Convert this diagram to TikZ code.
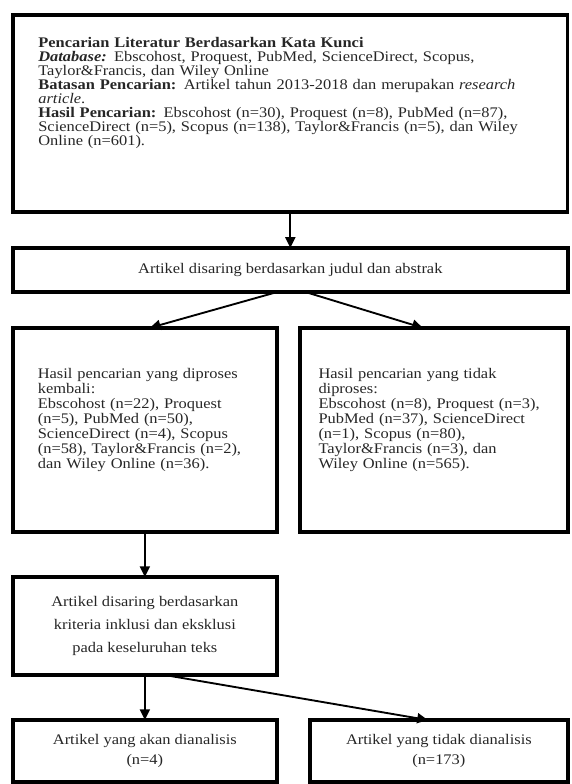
\documentclass[tikz,border=0pt]{standalone}
\usepackage{fontspec}
\setmainfont{Liberation Serif}[FakeStretch=1.12]
\usetikzlibrary{positioning,arrows.meta}

\begin{document}
\begin{tikzpicture}[
    kotak/.style={draw=black, line width=2.6pt, outer sep=0pt, text=black!85},
    panah/.style={-{Triangle[length=8pt,width=7.5pt]}, line width=1.4pt}]
  \useasboundingbox (0,0) rectangle (428.25pt,-588pt);

  \node[kotak, name=cari, anchor=north west, text width=378pt, align=left,
        inner xsep=19pt, inner ysep=17pt, text depth=106pt,
        font=\fontsize{11}{10.5}\selectfont] at (9.75pt,-11.25pt)
    {\textbf{Pencarian Literatur Berdasarkan Kata Kunci}\\
     \textbf{\textit{Database:}} Ebscohost, Proquest, PubMed, ScienceDirect, Scopus,\\
     Taylor\&Francis, dan Wiley Online\\
     \textbf{Batasan Pencarian:} Artikel tahun 2013-2018 dan merupakan \textit{research}\\
     \textit{article}.\\
     \textbf{Hasil Pencarian:} Ebscohost (n=30), Proquest (n=8), PubMed (n=87),\\
     ScienceDirect (n=5), Scopus (n=138), Taylor\&Francis (n=5), dan Wiley\\
     Online (n=601).};
  \node[kotak, name=saring, below=27pt of cari, minimum width=416.25pt,
        minimum height=33pt, font=\fontsize{11}{13}\selectfont]
    {Artikel disaring berdasarkan judul dan abstrak};

  \node[kotak, name=proses, below=27pt of saring.south west, anchor=north west,
        text width=160.5pt, align=left, inner xsep=18.75pt, inner ysep=30pt,
        text depth=85.5pt, font=\fontsize{11}{11.25}\selectfont]
    {Hasil pencarian yang diproses\\
     kembali:\\
     Ebscohost (n=22), Proquest\\
     (n=5), PubMed (n=50),\\
     ScienceDirect (n=4), Scopus\\
     (n=58), Taylor\&Francis (n=2),\\
     dan Wiley Online (n=36).};
  \node[kotak, name=tidak, right=17.25pt of proses.north east, anchor=north west,
        text width=173pt, align=left, inner xsep=14pt, inner ysep=30pt,
        text depth=85.5pt, font=\fontsize{11}{11.25}\selectfont]
    {Hasil pencarian yang tidak\\
     diproses:\\
     Ebscohost (n=8), Proquest (n=3),\\
     PubMed (n=37), ScienceDirect\\
     (n=1), Scopus (n=80),\\
     Taylor\&Francis (n=3), dan\\
     Wiley Online (n=565).};

  \node[kotak, name=kriteria, below=33.75pt of proses.south west, anchor=north west,
        minimum width=198pt, minimum height=73.5pt, align=center,
        font=\fontsize{11}{17.25}\selectfont]
    {Artikel disaring berdasarkan\\ kriteria inklusi dan eksklusi\\ pada keseluruhan teks};

  \node[kotak, name=analisis, below=33.75pt of kriteria.south west, anchor=north west,
        minimum width=198pt, minimum height=46.5pt, align=center,
        font=\fontsize{11}{14.6}\selectfont]
    {Artikel yang akan dianalisis\\ (n=4)};
  \node[kotak, name=buang, right=24.75pt of analisis.north east, anchor=north west,
        minimum width=193.5pt, minimum height=46.5pt, align=center,
        font=\fontsize{11}{14.6}\selectfont]
    {Artikel yang tidak dianalisis\\ (n=173)};

  \path[panah]
     (cari) edge (saring)
     ([xshift=-9.4pt]saring.south) edge ([xshift=3.75pt]proses.north)
     ([xshift=10.9pt]saring.south) edge ([xshift=-8.25pt]tidak.north)
     (proses) edge (kriteria)
     (kriteria) edge (analisis)
     ([xshift=15pt]kriteria.south) edge ([xshift=-8.25pt]buang.north);
\end{tikzpicture}
\end{document}
